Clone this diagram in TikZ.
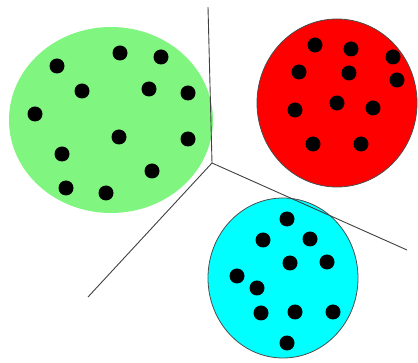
\documentclass[tikz,border=0pt]{standalone}
\begin{document}
\begin{tikzpicture}[x=1pt,y=-1pt,
  dot/.style={circle,fill=black,inner sep=0pt,minimum size=15pt},
  axis/.style={draw=black!75,line width=0.9pt},
  blob/.style={draw=black!70,line width=0.8pt}]
\useasboundingbox (0,0) rectangle (418,363);
\definecolor{lgreen}{RGB}{128,245,128}
\definecolor{cyanb}{RGB}{0,255,255}
% clusters
\fill[lgreen] (111,120) ellipse [x radius=102, y radius=93];
\filldraw[blob,fill=red] (337,103) ellipse [x radius=80, y radius=84];
\filldraw[blob,fill=cyanb] (283,278) ellipse [x radius=75, y radius=80];
% green dots
\foreach \p [count=\i] in {(57,66),(120,53),(161,57),(82,91),(149,89),(188,93),(35,114),(119,137),(188,139),(62,154),(152,171),(66,188),(106,193)}
  \node[dot] (g\i) at \p {};
% red dots
\foreach \p [count=\i] in {(315,45),(351,49),(393,57),(299,72),(349,73),(397,80),(295,110),(337,103),(373,108),(313,144),(361,144)}
  \node[dot] (r\i) at \p {};
% cyan dots
\foreach \p [count=\i] in {(287,219),(263,240),(310,239),(290,263),(327,262),(237,276),(257,288),(261,313),(295,312),(333,312),(287,343)}
  \node[dot] (c\i) at \p {};
% axes
\coordinate (O) at (212,163);
\coordinate (T) at (208,7);
\coordinate (L) at (88,297);
\coordinate (R) at (407,250);
\draw[axis] (O) -- (T);
\draw[axis] (O) -- (L);
\draw[axis] (O) -- (R);
\end{tikzpicture}
\end{document}
